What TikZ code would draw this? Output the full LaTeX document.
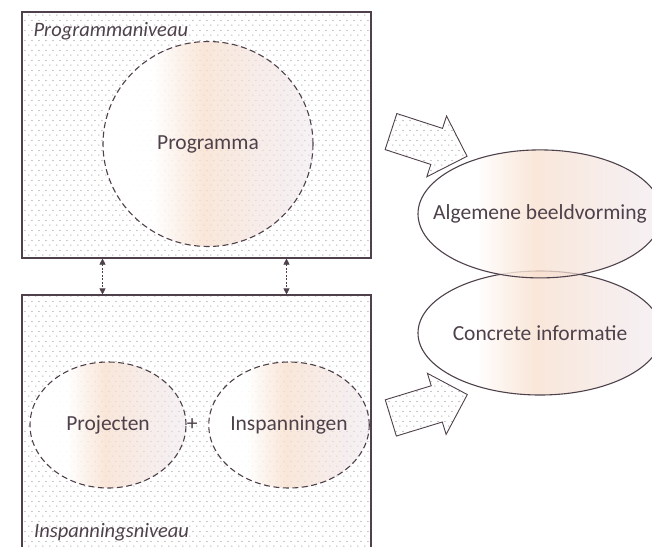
\documentclass[tikz,border=0pt]{standalone}
\usepackage{fontspec}
\setmainfont{Carlito}
\usetikzlibrary{positioning,shapes.geometric,shapes.arrows,patterns,fadings,arrows.meta}
\definecolor{ink}{HTML}{4E414B}
\definecolor{peach}{HTML}{F8E0CF}
\definecolor{lav}{HTML}{EEE6EC}
\pgfdeclarepatternformonly{fine dots}{\pgfpointorigin}{\pgfqpoint{7pt}{10pt}}{\pgfqpoint{7pt}{10pt}}{%
  \pgfpathcircle{\pgfqpoint{1pt}{1pt}}{0.65pt}
  \pgfpathcircle{\pgfqpoint{4.5pt}{6pt}}{0.65pt}
  \pgfusepath{fill}}
\pgfdeclarehorizontalshading{peachy}{100bp}{color(0bp)=(white); color(37bp)=(white);
  color(49bp)=(peach); color(75bp)=(lav); color(100bp)=(lav)}
\tikzfading[name=fadeout, left color=transparent!0, right color=transparent!45]
\tikzset{level/.style={draw=ink, line width=1.1pt, pattern=fine dots, pattern color=black!45, inner sep=0pt},
        tag/.style={font=\fontsize{20.5}{24}\selectfont\itshape, inner sep=0pt},
        blob/.style={ellipse, draw=ink, line width=1.1pt, dash pattern=on 6pt off 3.5pt, inner sep=0pt,
        preaction={shade, shading=peachy, path fading=fadeout}},
        flow/.style={single arrow, draw=ink, line width=0.9pt, pattern=fine dots, pattern color=black!45,
        inner sep=0pt, inner ysep=18.5pt, single arrow head extend=13pt, minimum height=80},
        updown/.style={draw=ink, line width=0.6pt, dash pattern=on 2pt off 1.5pt,
        {Triangle[length=6pt,width=6pt]}-{Triangle[length=6pt,width=6pt]}}}

\begin{document}
\begin{tikzpicture}[x=1pt,y=-1pt,font=\fontsize{21.5}{25}\selectfont,text=ink]
  \clip (0,0) rectangle (652,546);
  \node[level, minimum width=349, minimum height=246] (prog) at (196.5,135) {};
  \node[level, minimum width=349, minimum height=270] (insp) at (196.5,430) {};
  \node[tag, anchor=base west] (progtag) at ([shift={(12,25)}]prog.north west) {Programmaniveau};
  \node[tag, anchor=base west] (insptag) at (34,537) {Inspanningsniveau};
  \node[blob, minimum width=210, minimum height=205] (programma) at (208,144) {Programma};
  \node[blob, minimum width=156, minimum height=126] (projecten) at (108,425) {Projecten};
  \node[blob, inner xsep=-2pt, minimum width=154, minimum height=126] (inspanningen) at (289,425) {Inspanningen};
  \node[inner sep=0pt, right=0pt of projecten] (plus) {+};
  \draw[updown] ([xshift=-94]prog.south) -- ([xshift=-94]prog.south |- insp.north);
  \draw[updown] ([xshift=90]prog.south) -- ([xshift=90]prog.south |- insp.north);
  % beeldvorming
  \node[blob, solid, inner xsep=-26pt, minimum width=244, minimum height=124] (concreet) at (540,333) {Concrete informatie};
  \node[blob, solid, inner xsep=-26pt, minimum width=244, minimum height=128, above=-8pt of concreet] (algemeen) {Algemene beeldvorming};
  \node[flow, rotate=-18] (flowtop) at (420,141) {};
  \node[flow, rotate=17] (flowbot) at (420,409) {};
\end{tikzpicture}
\end{document}
